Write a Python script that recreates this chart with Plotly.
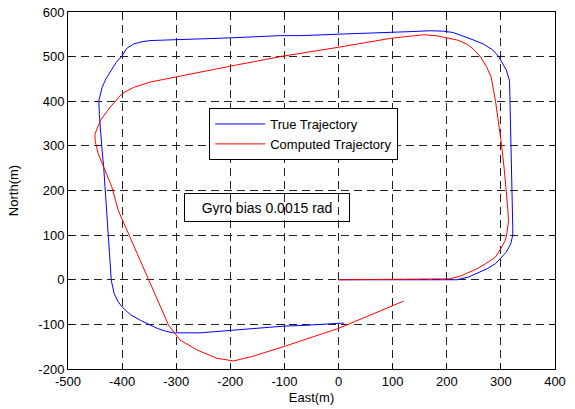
import plotly.graph_objects as go

# True trajectory (East, North) in metres
true_east = [0, 100, 200, 219, 240, 256, 275, 290, 300, 310, 318, 322, 322, 321, 320, 320, 319,
             318, 318, 316, 310, 296, 285, 268, 250, 237, 212, 194, 170, 132, 77, 16, -71, -108,
             -200, -317, -348, -365, -379, -392, -400, -411, -421, -430, -437, -443, -442, -440,
             -437, -434, -429, -428, -425, -420, -415, -408, -400, -385, -366, -350, -335, -320,
             -305, -256, -200, -102, -60, -20, 10]
true_north = [0, 0, 0, 0, 6, 14, 25, 36, 48, 62, 80, 100, 115, 177, 200, 250, 300,
              350, 401, 446, 470, 500, 515, 528, 537, 543, 554, 557, 558, 556, 553, 551, 547, 547,
              542, 537, 536, 533, 528, 518, 502, 487, 469, 450, 431, 401, 370, 327,
              290, 252, 155, 148, 88, -1, -30, -48, -61, -78, -91, -101, -109, -115,
              -119, -119, -113, -104, -102, -100, -97]

# Computed trajectory (East, North) in metres
comp_east = [0, 100, 200, 205, 225, 237, 255, 272, 290, 300, 308, 311, 314, 313, 310, 306, 301,
             296, 290, 282, 274, 262, 250, 237, 220, 200, 180, 157, 96, 0, -108, -194, -299,
             -348, -379, -400, -422, -440, -450, -450, -444, -434, -419, -407, -388, -351, -314,
             -293, -262, -225, -194, -157, -102, 0, 120]
comp_north = [0, 1, 2, 2, 8, 14, 24, 36, 51, 70, 88, 104, 130, 155, 200, 250, 305,
              350, 401, 454, 476, 500, 516, 528, 537, 542, 547, 549, 541, 521, 500, 480, 454,
              443, 431, 417, 387, 357, 327, 312, 282, 252, 208, 155, 103, 0, -102,
              -135, -157, -176, -182, -171, -150, -109, -48]

x_ticks = [-500, -400, -300, -200, -100, 0, 100, 200, 300, 400]
y_ticks = [-200, -100, 0, 100, 200, 300, 400, 500, 600]

font_family = "Liberation Sans, Arial, sans-serif"

fig = go.Figure()
fig.add_trace(go.Scatter(x=true_east, y=true_north, mode="lines", name="True Trajectory",
                         line=dict(color="#0000ff", width=1)))
fig.add_trace(go.Scatter(x=comp_east, y=comp_north, mode="lines", name="Computed Trajectory",
                         line=dict(color="#ff0000", width=1)))

axis_common = dict(
    showline=True, linecolor="black", linewidth=1, mirror="ticks",
    ticks="inside", ticklen=5, tickcolor="black", tickwidth=1,
    showgrid=True, gridcolor="#222222", gridwidth=1, griddash="8px,5px",
    zeroline=False, tickfont=dict(family=font_family, size=13, color="black"),
    automargin=False,
)

fig.update_xaxes(range=[-500, 400], tickvals=x_ticks, ticktext=[str(v) for v in x_ticks],
                 title=dict(text="East(m)", font=dict(family=font_family, size=13, color="black"),
                            standoff=5),
                 **axis_common)
fig.update_yaxes(range=[-200, 600], tickvals=y_ticks, ticktext=[str(v) for v in y_ticks],
                 title=dict(text="North(m)", font=dict(family=font_family, size=13, color="black"),
                            standoff=16),
                 **axis_common)

fig.add_annotation(x=-133, y=163, xref="x", yref="y", text="Gyro bias 0.0015 rad",
                   showarrow=False, font=dict(family=font_family, size=14, color="black"),
                   bordercolor="black", borderwidth=1, borderpad=6, width=152, height=15,
                   align="center")

fig.update_layout(
    width=575, height=409,
    margin=dict(l=68, r=20, t=12, b=40),
    paper_bgcolor="white", plot_bgcolor="white",
    showlegend=True,
    legend=dict(x=0.29, y=0.731, xanchor="left", yanchor="top",
                bgcolor="white", bordercolor="black", borderwidth=1,
                font=dict(family=font_family, size=13, color="black"),
                itemwidth=50, tracegroupgap=0),
    font=dict(family=font_family, size=13, color="black"),
)

fig.write_html("out.html", post_script="document.body.style.margin='0';",
               config={"displayModeBar": False})
